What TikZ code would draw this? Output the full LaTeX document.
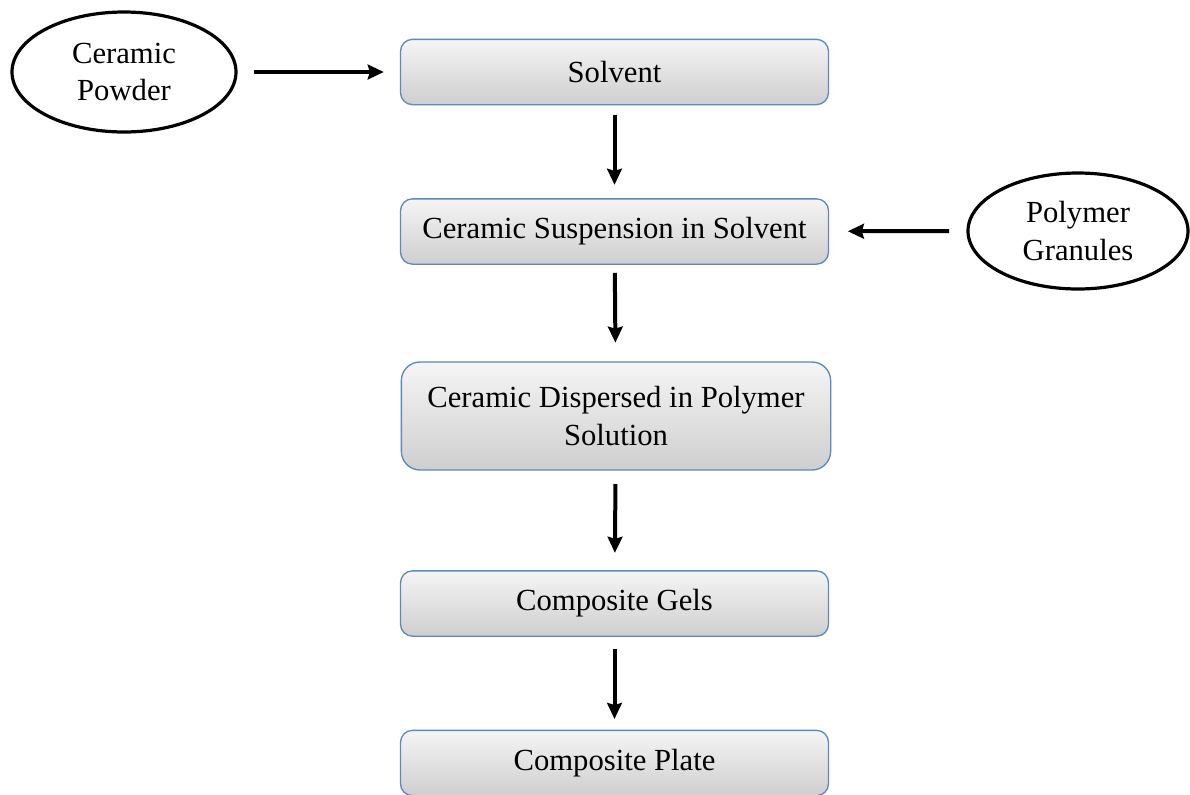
\documentclass[tikz,border=0pt]{standalone}
\usepackage{fontspec}
\setmainfont{Liberation Serif}
\newfontfamily\diagfont{Liberation Serif}
\usepackage{tikz}
\usetikzlibrary{shapes.geometric,arrows.meta}
\tikzset{>={Stealth[length=12pt, width=11pt, inset=1.5pt]}}
\definecolor{boxline}{RGB}{92,137,190}

\tikzset{
    stepbox/.style={draw=boxline, line width=1pt, rounded corners=9pt,
        top color=gray!8, bottom color=gray!38, align=center,
        minimum width=321pt, minimum height=49pt, inner sep=0pt},
    source/.style={draw=black, line width=2.4pt, ellipse, align=center, inner sep=0pt},
    feed/.style={->, line width=3pt}
}

\begin{document}
\begin{tikzpicture}[x=0.75pt, y=-0.75pt, font=\diagfont\fontsize{23}{28}\selectfont]

            \useasboundingbox (0,0) rectangle (1190,794);

            % Process steps
            \node[stepbox] (solvent) at (614.5,72) {Solvent};
            \node[stepbox] (susp) at (614.5,231.5) {Ceramic Suspension in Solvent};
            \node[stepbox, rounded corners=14pt, minimum width=322pt, minimum height=81pt] (disp) at (616,416) {Ceramic Dispersed in Polymer\\Solution};
            \node[stepbox] (gels) at (614.5,603.5) {Composite Gels};
            \node[stepbox] (plate) at (614.5,763) {Composite Plate};

            % Raw materials
            \node[source, minimum width=168pt, minimum height=90pt] (powder) at (124,72) {Ceramic\\Powder};
            \node[source, minimum width=165pt, minimum height=87pt] (granules) at (1078,231) {Polymer\\Granules};

            % Arrows
            \draw[feed, shorten <=12pt, shorten >=12pt] (powder) -- (solvent);
            \draw[feed, shorten <=7pt, shorten >=10pt] (solvent) -- (susp);
            \draw[feed, shorten <=13pt, shorten >=14pt] (granules) -- (susp);
            \draw[feed, shorten <=6pt, shorten >=14pt] (susp) -- (disp);
            \draw[feed, shorten <=10pt, shorten >=13pt] (disp) -- (gels);
            \draw[feed, shorten <=9pt, shorten >=8pt] (gels) -- (plate);

        \end{tikzpicture}
\end{document}
